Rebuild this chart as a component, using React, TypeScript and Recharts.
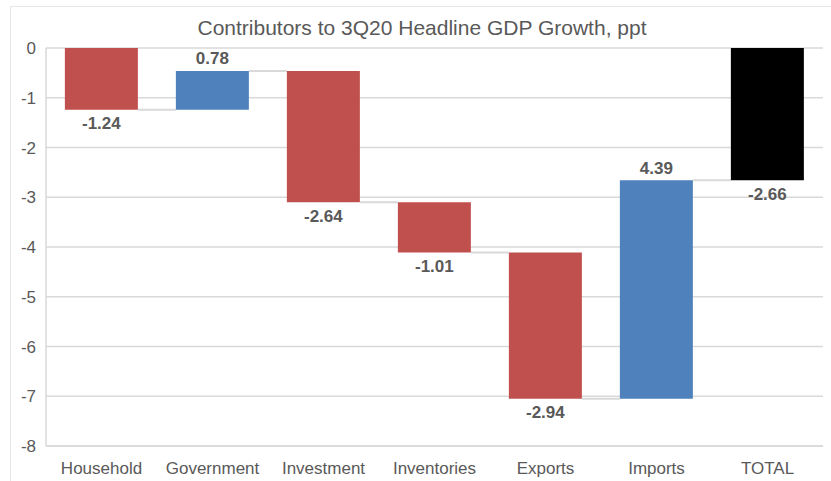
import React from "react";
import { Bar, BarChart, CartesianGrid, Cell, LabelList, Rectangle, XAxis, YAxis } from "recharts";

const categories = ["Household", "Government", "Investment", "Inventories", "Exports", "Imports", "TOTAL"];
const contributions = [-1.24, 0.78, -2.64, -1.01, -2.94, 4.39, -2.66];
const yTicks = [0, -1, -2, -3, -4, -5, -6, -7, -8];

const RED = "#C0504D";
const BLUE = "#4F81BD";
const GREY_TEXT = "#595959";
const GRID = "#d9d9d9";

const CHART_W = 831;
const CHART_H = 481;
const Y_AXIS_W = 46;
const RIGHT = 8;
const BAND = (CHART_W - Y_AXIS_W - RIGHT) / categories.length;

// waterfall: each bar floats from the running total; the last one is the total from zero
let running = 0;
const data = categories.map((name, i) => {
  const v = contributions[i];
  const isTotal = i === categories.length - 1;
  const start = isTotal ? 0 : running;
  const end = isTotal ? v : running + v;
  if (!isTotal) running = end;
  return {
    name,
    value: v,
    range: [Math.min(start, end), Math.max(start, end)] as [number, number],
    color: isTotal ? "#000000" : v < 0 ? RED : BLUE,
  };
});

// bar plus the thin connector running over to the next bar at the new level
const WaterfallBar = (props: any) => {
  const { x, y, width, height, index, fill } = props;
  const top = Math.min(y, y + height);
  const bottom = Math.max(y, y + height);
  const v = contributions[index];
  const last = index === categories.length - 1;
  const levelY = v < 0 ? bottom : top;
  return (
    <g>
      {!last && (
        <line
          x1={x + width}
          x2={x + BAND}
          y1={levelY}
          y2={levelY}
          stroke={GRID}
          strokeWidth={2}
        />
      )}
      <Rectangle x={x} y={top} width={width} height={bottom - top} fill={fill} />
    </g>
  );
};

const ValueLabel = (props: any) => {
  const { x, y, width, height, index } = props;
  const v = contributions[index];
  const top = Math.min(y, y + height);
  const bottom = Math.max(y, y + height);
  const cy = v < 0 ? bottom + 15 : top - 11;
  return (
    <text
      x={x + width / 2}
      y={cy}
      textAnchor="middle"
      dominantBaseline="middle"
      fill={GREY_TEXT}
      fontWeight="bold"
      fontSize={17}
    >
      {v.toFixed(2)}
    </text>
  );
};

export default function App() {
  return (
    <div
      style={{
        position: "absolute",
        left: 0,
        top: 0,
        width: CHART_W,
        height: CHART_H,
        background: "#fff",
        fontFamily: "'Liberation Sans', Arial, sans-serif",
        overflow: "hidden",
      }}
    >
      <div
        style={{
          position: "absolute",
          left: 10,
          top: 6,
          width: 840,
          height: 500,
          border: "1px solid #e6e6e6",
        }}
      />
      <div
        style={{
          position: "absolute",
          top: 16,
          left: 0,
          width: 844,
          textAlign: "center",
          fontSize: 21,
          color: GREY_TEXT,
        }}
      >
        Contributors to 3Q20 Headline GDP Growth, ppt
      </div>
      <div style={{ position: "absolute", left: 0, top: 0 }}>
        <BarChart
          width={CHART_W}
          height={CHART_H}
          data={data}
          margin={{ top: 48, right: RIGHT, bottom: 0, left: 0 }}
          barCategoryGap="17%"
        >
          <CartesianGrid horizontal vertical={false} stroke={GRID} strokeWidth={1.5} />
          <XAxis
            dataKey="name"
            height={35}
            axisLine={{ stroke: GRID, strokeWidth: 1.5 }}
            tickLine={false}
            tick={{ fill: GREY_TEXT, fontSize: 17 }}
            tickMargin={10}
          />
          <YAxis
            width={Y_AXIS_W}
            domain={[-8, 0]}
            ticks={yTicks}
            interval={0}
            axisLine={{ stroke: GRID, strokeWidth: 1.5 }}
            tickLine={false}
            tick={{ fill: GREY_TEXT, fontSize: 17 }}
            tickMargin={4}
          />
          <Bar dataKey="range" isAnimationActive={false} shape={WaterfallBar}>
            {data.map((d) => (
              <Cell key={d.name} fill={d.color} />
            ))}
            <LabelList dataKey="range" content={ValueLabel} />
          </Bar>
        </BarChart>
      </div>
    </div>
  );
}
